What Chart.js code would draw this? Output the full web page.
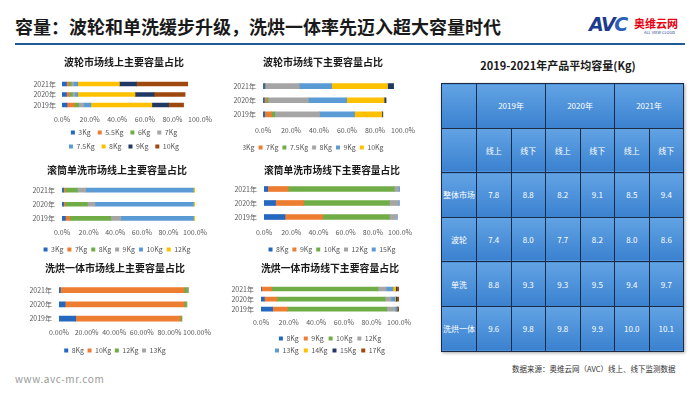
<!DOCTYPE html>
<html>
<head>
<meta charset="utf-8">
<script src="https://cdn.jsdelivr.net/npm/chart.js@4.4.0/dist/chart.umd.min.js"></script>
<style>
  body { margin: 0; width: 700px; height: 394px; background: #fff; position: relative; overflow: hidden;
         font-family: "Noto Sans CJK SC", sans-serif; }
  .abs { position: absolute; white-space: nowrap; }
  canvas { position: absolute; }
  #title { left: 15px; top: 13px; font-size: 18px; font-weight: bold; color: #1a1a1a; line-height: 26px; }
  #rule { left: 15px; top: 43px; width: 670px; height: 2px; background: #1f5c99; }
  #tblTitle { left: 458px; top: 57px; width: 200px; text-align: center; font-size: 11px; font-weight: bold; color: #1a1a1a; }
  #tbl { position: absolute; left: 441px; top: 83px; width: 242px; border-collapse: collapse; table-layout: fixed;
         box-shadow: 1px 1px 3px rgba(0,0,0,.35); }
  #tbl td { border: 1px solid #1b2b45; background: linear-gradient(#62a3e4, #3a81cf); color: #fff;
            font-size: 8px; text-align: center; padding: 0; height: 43.6px; }
  #src { left: 512px; top: 363px; font-size: 7.5px; color: #333; }
  #site { left: 15px; top: 371px; font-size: 10px; color: #9a9a9a; letter-spacing: 0.6px; }
</style>
</head>
<body>
<div id="title" class="abs">容量：波轮和单洗缓步升级，洗烘一体率先迈入超大容量时代</div>
<div id="rule" class="abs"></div>
<div class="abs" style="left:589px;top:13px;font:italic 900 19px 'DejaVu Sans';color:#1d3c8f;letter-spacing:-1.5px;">AV<span style="color:#2b5fb8">C</span></div>
<div class="abs" style="left:634px;top:15px;font-size:11px;font-weight:bold;color:#e60012;">奥维云网</div>
<div class="abs" style="left:644px;top:29px;font-size:4px;color:#1d3c8f;">ALL VIEW CLOUD</div>
<div id="tblTitle" class="abs">2019-2021年产品平均容量(Kg)</div>
<table id="tbl"></table>
<div id="src" class="abs">数据来源：奥维云网（AVC）线上、线下监测数据</div>
<div id="site" class="abs">www.avc-mr.com</div>

<script>
const years = ['2021年', '2020年', '2019年'];

// 波轮市场线上 (values per size: 2021, 2020, 2019)
const bolunOnlineSizes = ['3Kg', '5.5Kg', '6Kg', '7Kg', '7.5Kg', '8Kg', '9Kg', '10Kg'];
const bolunOnlineValues = [
  [3.2, 3.2, 3.6], [1.8, 2.2, 5.3], [1.8, 2.0, 3.1], [1.8, 2.0, 3.6],
  [2.8, 2.0, 5.3], [30.2, 41.5, 44.2], [12.3, 13.8, 12.1], [37.2, 22.5, 10.9]
];

// 波轮市场线下
const bolunOfflineSizes = ['3Kg', '7Kg', '7.5Kg', '8Kg', '9Kg', '10Kg', '11Kg'];
const bolunOfflineValues = [
  [1.2, 1.0, 1.2], [0.4, 1.4, 4.8], [0.3, 1.2, 2.4], [24.0, 28.8, 32.0],
  [23.1, 27.4, 25.0], [40.0, 26.7, 19.5], [4.3, 1.4, 0.7]
];

// 滚筒单洗市场线上
const drumOnlineSizes = ['3Kg', '7Kg', '8Kg', '9Kg', '10Kg', '12Kg'];
const drumOnlineValues = [
  [1.2, 1.2, 2.5], [1.2, 1.2, 3.2], [9.2, 16.7, 31.0],
  [6.2, 5.7, 7.5], [81.0, 74.0, 54.7], [1.2, 1.2, 1.0]
];

// 滚筒单洗市场线下
const drumOfflineSizes = ['8Kg', '9Kg', '10Kg', '12Kg', '15Kg'];
const drumOfflineValues = [
  [2.7, 8.5, 15.4], [15.0, 20.7, 27.8], [78.0, 63.0, 49.0], [3.2, 6.6, 5.4], [0.8, 0.8, 0.5]
];

// 洗烘一体市场线上
const dryerOnlineSizes = ['8Kg', '10Kg', '12Kg', '13Kg'];
const dryerOnlineValues = [
  [1.0, 4.4, 12.1], [89.6, 86.4, 75.8], [2.4, 1.5, 1.0], [1.0, 0.5, 0.3]
];

// 洗烘一体市场线下
const dryerOfflineSizes = ['8Kg', '9Kg', '10Kg', '12Kg', '13Kg', '14Kg', '15Kg', '17Kg'];
const dryerOfflineValues = [
  [0.3, 2.4, 8.4], [7.4, 9.1, 10.8], [77.0, 78.4, 72.0], [6.0, 4.3, 6.0],
  [5.0, 2.9, 1.2], [1.9, 0.5, 0.2], [0.7, 0.7, 0.5], [1.7, 1.7, 1.0]
];

// table: 2019-2021年产品平均容量(Kg)
const tableYears = ['2019年', '2020年', '2021年'];
const tableChannels = ['线上', '线下'];
const tableRows = ['整体市场', '波轮', '单洗', '洗烘一体'];
const tableValues = [
  [7.8, 8.8, 8.2, 9.1, 8.5, 9.4],
  [7.4, 8.0, 7.7, 8.2, 8.0, 8.6],
  [8.8, 9.3, 9.3, 9.5, 9.4, 9.7],
  [9.6, 9.8, 9.8, 9.9, 10.0, 10.1]
];

const C = {
  blue: '#2468c0', orange: '#ed7d31', green: '#70ad47', gray: '#a5a5a5',
  lblue: '#5b9bd5', yellow: '#ffc000', navy: '#203864', brown: '#9e480e'
};

const FONT = '"Noto Sans CJK SC", sans-serif';
Chart.defaults.font.family = FONT;

// width of the widest year label, so the mirrored y labels can sit left of the plot
const mctx = document.createElement('canvas').getContext('2d');
mctx.font = '7px ' + FONT;
const yearWidth = Math.max(...years.map(y => mctx.measureText(y).width));

// legend wraps at a given width instead of the full canvas width
const legendWrap = {
  id: 'legendWrap',
  afterInit(chart, args, opts) {
    const lg = chart.legend;
    const fit = lg.fit;
    lg.fit = function () {
      const mw = this.maxWidth;
      if (opts.width) this.maxWidth = opts.width;
      fit.call(this);
      this.maxWidth = mw;
      this.width = mw;
    };
  }
};

function stackedBars(g, title, sizes, values, colors) {
  const W = 200;
  const left = Math.round(g.cx - W / 2);
  const cx = left + W / 2;
  const top = Math.round(g.titleY - 6);
  const pr = left + W - g.r;
  const yW = Math.max(0, g.l + g.r - 2 * cx);
  const legendTop = g.legendY - g.lp - 3.5;
  const legendH = g.rows * (7 + g.lp) + 10;
  const H = Math.round(legendTop + legendH - top);
  const canvas = document.createElement('canvas');
  canvas.width = W;
  canvas.height = H;
  canvas.style.left = left + 'px';
  canvas.style.top = top + 'px';
  document.body.appendChild(canvas);

  new Chart(canvas, {
    type: 'bar',
    data: {
      labels: years,
      datasets: sizes.map((s, i) => ({
        label: s, data: values[i], backgroundColor: colors[i], borderWidth: 0, barThickness: g.bar
      }))
    },
    options: {
      responsive: false,
      animation: false,
      indexAxis: 'y',
      layout: { padding: { left: pr, right: pr, top: 0, bottom: 0 } },
      scales: {
        x: {
          stacked: true, min: 0, max: 100,
          grid: { display: false, drawTicks: false }, border: { display: false },
          ticks: {
            stepSize: 20, color: '#595959', font: { size: 7 },
            maxRotation: 0, minRotation: 0, autoSkip: false,
            padding: g.tickY - g.b - 4.2,
            callback: v => v.toFixed(g.dec || 1) + '%'
          },
          afterFit: s => { s.height = legendTop - g.b; }
        },
        y: {
          stacked: true,
          grid: { display: false, drawTicks: false }, border: { display: false },
          ticks: {
            color: '#595959', font: { size: 7 }, autoSkip: false,
            mirror: true, crossAlign: 'far',
            padding: -(g.yPad || 7) - yearWidth
          },
          afterFit: s => { s.width = yW; }
        }
      },
      plugins: {
        title: {
          display: true, text: title, color: '#1a1a1a',
          font: { size: 10, weight: 'bold' },
          padding: { top: 0, bottom: g.t - top - 12 }
        },
        legend: {
          position: 'bottom',
          labels: { boxWidth: 4, boxHeight: 4, padding: g.lp, color: '#595959', font: { size: 7 } }
        },
        legendWrap: { width: g.wrap },
        tooltip: { enabled: false }
      }
    },
    plugins: [legendWrap]
  });
}

stackedBars({ cx: 124, titleY: 62, l: 62, r: 200, t: 78.8, b: 110, tickY: 118.8, legendY: 132.3, rows: 2, lp: 7, bar: 4, wrap: 125, yPad: 6 },
  '波轮市场线上主要容量占比', bolunOnlineSizes, bolunOnlineValues,
  [C.blue, C.orange, C.green, C.gray, C.lblue, C.yellow, C.navy, C.brown]);

stackedBars({ cx: 323, titleY: 62, l: 263, r: 403, t: 79, b: 121, tickY: 130, legendY: 147, rows: 1, lp: 4, bar: 5, wrap: 220 },
  '波轮市场线下主要容量占比', bolunOfflineSizes, bolunOfflineValues,
  [C.blue, C.orange, C.green, C.gray, C.lblue, C.yellow, C.navy]);

stackedBars({ cx: 117, titleY: 170, l: 62, r: 195, t: 183, b: 225, tickY: 232, legendY: 249, rows: 1, lp: 4, bar: 4 },
  '滚筒单洗市场线上主要容量占比', drumOnlineSizes, drumOnlineValues,
  [C.blue, C.orange, C.green, C.gray, C.lblue, C.yellow]);

stackedBars({ cx: 331.5, titleY: 170, l: 263, r: 400, t: 182, b: 224, tickY: 232, legendY: 249.5, rows: 1, lp: 4, bar: 5 },
  '滚筒单洗市场线下主要容量占比', drumOfflineSizes, drumOfflineValues,
  [C.blue, C.orange, C.green, C.gray, C.lblue]);

stackedBars({ cx: 115, titleY: 268, l: 59, r: 197, t: 283, b: 325.3, tickY: 332, legendY: 350, rows: 1, lp: 3.5, bar: 5, dec: 2 },
  '洗烘一体市场线上主要容量占比', dryerOnlineSizes, dryerOnlineValues,
  [C.blue, C.orange, C.green, C.gray]);

stackedBars({ cx: 329.5, titleY: 268.3, l: 260, r: 399, t: 284, b: 314, tickY: 322.3, legendY: 338.3, rows: 2, lp: 5, bar: 4, wrap: 130 },
  '洗烘一体市场线下主要容量占比', dryerOfflineSizes, dryerOfflineValues,
  [C.blue, C.orange, C.green, C.gray, C.lblue, C.yellow, C.navy, C.brown]);

// table
const tbl = document.getElementById('tbl');
let html = '<colgroup><col style="width:35px">' + '<col style="width:34.5px">'.repeat(6) + '</colgroup>';
html += '<tr><td></td>' + tableYears.map(y => `<td colspan="2">${y}</td>`).join('') + '</tr>';
html += '<tr><td></td>' + tableYears.map(() => tableChannels.map(c => `<td>${c}</td>`).join('')).join('') + '</tr>';
tableRows.forEach((name, i) => {
  html += `<tr><td>${name}</td>` + tableValues[i].map(v => `<td>${v.toFixed(1)}</td>`).join('') + '</tr>';
});
tbl.innerHTML = html;
</script>
</body>
</html>
